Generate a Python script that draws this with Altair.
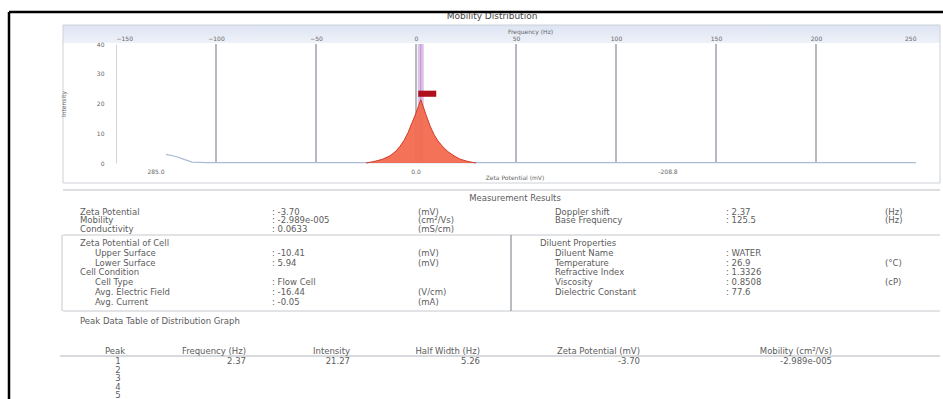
import altair as alt
import pandas as pd

# ---------------- Mobility distribution (Doppler frequency in Hz vs. intensity) -------------
freq_hz = [-25, -21, -17, -13, -10, -8, -6, -4, -2, 0, 1.2, 2.37, 3.6, 5, 7, 9,
           11, 13.5, 16, 19, 22, 26, 30]
intensity = [0.0, 0.5, 1.2, 2.4, 4.0, 5.6, 7.6, 10.2, 13.5, 16.8, 19.0, 21.27, 19.0, 16.2,
             12.5, 9.6, 7.4, 5.4, 3.8, 2.4, 1.3, 0.5, 0.0]

# faint background trace
trace_hz = [-125, -120, -116, -112, -105, 250]
trace_int = [2.9, 2.2, 1.2, 0.3, 0.15, 0.15]

freq_ticks = [-150, -100, -50, 0, 50, 100, 150, 200, 250]
grid_hz = [-100, -50, 0, 50, 100, 150, 200]
intensity_ticks = [0, 10, 20, 30, 40]

zeta_tick_hz = [-130, 0, 126]
zeta_tick_text = ["285.0", "0.0", "-208.8"]

peak_freq = 2.37
peak_intensity = 21.27

# ---------------- Measurement results ----------------
mr_left_labels = ["Zeta Potential", "Mobility", "Conductivity"]
mr_left_values = ["-3.70", "-2.989e-005", "0.0633"]
mr_left_units = ["(mV)", "(cm²/Vs)", "(mS/cm)"]
mr_right_labels = ["Doppler shift", "Base Frequency"]
mr_right_values = ["2.37", "125.5"]
mr_right_units = ["(Hz)", "(Hz)"]

cell_labels = ["Zeta Potential of Cell", "Upper Surface", "Lower Surface", "Cell Condition",
               "Cell Type", "Avg. Electric Field", "Avg. Current"]
cell_indent = [0, 1, 1, 0, 1, 1, 1]
cell_values = ["", "-10.41", "5.94", "", "Flow Cell", "-16.44", "-0.05"]
cell_units = ["", "(mV)", "(mV)", "", "", "(V/cm)", "(mA)"]

diluent_labels = ["Diluent Properties", "Diluent Name", "Temperature", "Refractive Index",
                  "Viscosity", "Dielectric Constant"]
diluent_indent = [0, 1, 1, 1, 1, 1]
diluent_values = ["", "WATER", "26.9", "1.3326", "0.8508", "77.6"]
diluent_units = ["", "", "(°C)", "", "(cP)", ""]

peak_table_title = "Peak Data Table of Distribution Graph"
peak_columns = ["Peak", "Frequency (Hz)", "Intensity", "Half Width (Hz)",
                "Zeta Potential (mV)", "Mobility (cm²/Vs)"]
peak_numbers = ["1", "2", "3", "4", "5"]
peak1_values = ["2.37", "21.27", "5.26", "-3.70", "-2.989e-005"]

# ---------------- layout ----------------
LEFT, TOP = 116, 44          # plot-area origin inside the 943x399 page
PW, PH = 800, 119            # plot-area size
FONT = "DejaVu Sans"
TXT = "#5c5c5c"
AX = "#666666"
BODY = 8.5

# column anchors (page x) and row centres (page y) of the report block
col_px = [80, 95, 272, 418, 540, 555, 726, 885, 515, 105, 118, 246, 350, 480, 640, 832]
row_px = [198, 211.5, 220, 228.5, 243, 252.8, 262.6, 272.4, 282.2, 292, 301.8, 321,
          351, 361, 369.5, 378, 386.5, 395]

col_scale = alt.Scale(domain=list(range(len(col_px))), range=[c - LEFT for c in col_px],
                      nice=False, zero=False)
row_scale = alt.Scale(domain=list(range(len(row_px))), range=[r - TOP for r in row_px],
                      nice=False, zero=False)

# ---------------- distribution chart ----------------
xs = alt.Scale(domain=[-150, 250], nice=False, zero=False)
ys = alt.Scale(domain=[0, 40], nice=False, zero=False)

top_axis = alt.Axis(orient="top", values=freq_ticks, title="Frequency (Hz)", ticks=False,
                    domain=False, grid=False, labelFontSize=6, labelColor=AX, labelFont=FONT,
                    labelPadding=3, titleFontSize=6, titleColor=AX, titleFont=FONT,
                    titleFontWeight="normal", titleX=414, titleY=-13, titleBaseline="middle",
                    zindex=2)
left_axis = alt.Axis(values=intensity_ticks, title="Intensity", ticks=False, domain=True,
                     domainColor="#cfd5dc", grid=False, labelFontSize=6, labelColor=AX,
                     labelFont=FONT, labelPadding=12, titleFontSize=6, titleColor=AX,
                     titleFont=FONT, titleFontWeight="normal", titlePadding=30, zindex=2)

X = alt.X("hz:Q", scale=xs, axis=top_axis)
Y = alt.Y("intensity:Q", scale=ys, axis=left_axis)

dist_df = pd.DataFrame({"hz": freq_hz, "intensity": intensity})
trace_df = pd.DataFrame({"hz": trace_hz, "intensity": trace_int})
grid_df = pd.DataFrame({"hz": grid_hz})
peak_df = pd.DataFrame({"hz": [peak_freq], "intensity": [peak_intensity]})
zeta_df = pd.DataFrame({"hz": zeta_tick_hz, "label": zeta_tick_text})

grid = alt.Chart(grid_df).mark_rule(color="#959ca5", strokeWidth=1.4).encode(x=X)
band = alt.Chart(peak_df).mark_rule(color="#dcc3e6", strokeWidth=6).encode(x=X)
band_core = alt.Chart(peak_df).mark_rule(color="#c58fd3", strokeWidth=1).encode(x=X)
trace = alt.Chart(trace_df).mark_line(color="#a9bcd3", strokeWidth=1.2).encode(x=X, y=Y)
area = alt.Chart(dist_df).mark_area(color="#f26a4f", opacity=0.95,
                                    line={"color": "#d23b28", "strokeWidth": 1}).encode(x=X, y=Y)
marker = alt.Chart(peak_df).mark_point(
    shape="M-1,-0.34H1V0.34H-1Z", size=324, filled=True, color="#b0101c", opacity=1,
    xOffset=6.5, yOffset=-6).encode(x=X, y=Y)
zeta_labels = alt.Chart(zeta_df).mark_text(fontSize=6, font=FONT, color=AX).encode(
    x=X, y=alt.value(128), text="label:N")
zeta_title = alt.Chart(pd.DataFrame({"hz": [49.5], "t": ["Zeta Potential (mV)"]})).mark_text(
    fontSize=6, font=FONT, color=AX).encode(x=X, y=alt.value(134), text="t:N")

dist = alt.layer(grid, band, band_core, trace, area, marker, zeta_labels, zeta_title)

# ---------------- report text ----------------
left_rows, center_rows, right_rows = [], [], []
for i, lab in enumerate(mr_left_labels):
    left_rows += [(lab, 0, 1 + i), (": " + mr_left_values[i], 2, 1 + i), (mr_left_units[i], 3, 1 + i)]
for i, lab in enumerate(mr_right_labels):
    left_rows += [(lab, 5, 1 + i), (": " + mr_right_values[i], 6, 1 + i), (mr_right_units[i], 7, 1 + i)]
for i, lab in enumerate(cell_labels):
    left_rows.append((lab, cell_indent[i], 4 + i))
    if cell_values[i]:
        left_rows.append((": " + cell_values[i], 2, 4 + i))
    if cell_units[i]:
        left_rows.append((cell_units[i], 3, 4 + i))
for i, lab in enumerate(diluent_labels):
    left_rows.append((lab, 4 + diluent_indent[i], 4 + i))
    if diluent_values[i]:
        left_rows.append((": " + diluent_values[i], 6, 4 + i))
    if diluent_units[i]:
        left_rows.append((diluent_units[i], 7, 4 + i))
left_rows.append((peak_table_title, 0, 11))
left_rows.append((peak_columns[0], 9, 12))
center_rows.append(("Measurement Results", 8, 0))
for i, n in enumerate(peak_numbers):
    center_rows.append((n, 10, 13 + i))
for j, head in enumerate(peak_columns[1:]):
    right_rows.append((head, 11 + j, 12))
    right_rows.append((peak1_values[j], 11 + j, 13))


def text_layer(rows, align):
    df = pd.DataFrame(rows, columns=["text", "col", "row"])
    return alt.Chart(df).mark_text(align=align, baseline="middle", fontSize=BODY, font=FONT,
                                   color=TXT).encode(
        x=alt.X("col:Q", scale=col_scale, axis=None),
        y=alt.Y("row:Q", scale=row_scale, axis=None),
        text="text:N")


report = alt.layer(text_layer(left_rows, "left"), text_layer(center_rows, "center"),
                   text_layer(right_rows, "right"))

# ---------------- frames and separators ----------------
one = pd.DataFrame({"k": [0]})


def rule(x0, x1, y0, y1, color="#c4c8cd", w=1.0):
    return alt.Chart(one).mark_rule(color=color, strokeWidth=w).encode(
        x=alt.value(x0 - LEFT), x2=alt.value(x1 - LEFT),
        y=alt.value(y0 - TOP), y2=alt.value(y1 - TOP))


header_band = alt.Chart(one).mark_rect(
    color=alt.Gradient(gradient="linear", x1=0, x2=0, y1=0, y2=1,
                       stops=[alt.GradientStop(color="#dde4f2", offset=0),
                              alt.GradientStop(color="#eef2f9", offset=1)])).encode(
    x=alt.value(63 - LEFT), x2=alt.value(940 - LEFT),
    y=alt.value(25 - TOP), y2=alt.value(43 - TOP))
panel = alt.Chart(one).mark_rect(fill=None, stroke="#cdd2d8", strokeWidth=1).encode(
    x=alt.value(63 - LEFT), x2=alt.value(940 - LEFT),
    y=alt.value(25 - TOP), y2=alt.value(183 - TOP))
title = alt.Chart(pd.DataFrame({"t": ["Mobility Distribution"]})).mark_text(
    fontSize=9, font=FONT, color="#444444", baseline="middle").encode(
    x=alt.value(492 - LEFT), y=alt.value(16 - TOP), text="t:N")

deco = [
    header_band, panel, title,
    rule(9, 943, 12, 12, "#000000", 2.5),
    rule(9, 9, 12, 399, "#000000", 2.5),
    rule(63, 940, 190, 190, "#b9bec4", 1.2),
    rule(63, 940, 235, 235),
    rule(63, 940, 311, 311),
    rule(62, 62, 235, 311),
    rule(511, 511, 235, 311, "#9aa0a6", 1.4),
    rule(60, 940, 356, 356, "#b0b5bb", 1.0),
]

chart = alt.layer(*deco, dist, report).resolve_scale(
    x="independent", y="independent"
).properties(
    width=PW, height=PH,
    padding={"left": LEFT, "top": TOP, "right": 943 - LEFT - PW, "bottom": 399 - TOP - PH},
    autosize=alt.AutoSizeParams(type="none"),
    background="white",
).configure_view(stroke=None)

chart.save("out.html", embed_options={"renderer": "svg", "actions": False})
